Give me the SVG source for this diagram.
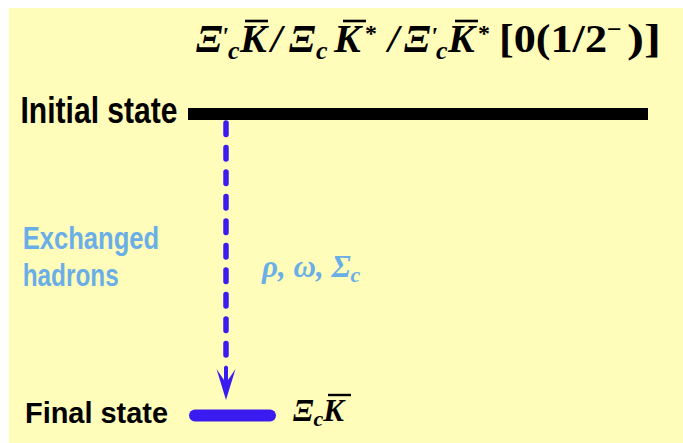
<svg xmlns="http://www.w3.org/2000/svg" width="683" height="443" viewBox="0 0 683 443">
<style>
.lab{font-family:"Liberation Sans",Arial,sans-serif;font-weight:bold;fill:#000}
.blue{fill:#6AAEE8}
.m{font-family:"Liberation Serif","Times New Roman",serif;font-weight:bold;font-style:italic}
.u{font-style:normal}
.ol{stroke-width:2.6}
</style>
<rect x="0" y="0" width="683" height="443" fill="#ffffff"/>
<rect x="9" y="8" width="674" height="435" fill="#FFFDB9"/>
<g id="title">
<text class="m" font-size="40" y="52" fill="#000"><tspan x="196">Ξ</tspan><tspan x="240">K</tspan><tspan x="271">/</tspan><tspan x="289">Ξ</tspan><tspan x="316" y="59" font-size="26">c</tspan><tspan x="334" y="52">K</tspan><tspan x="365" y="41" font-size="24" class="u">*</tspan><tspan x="388" y="52">/</tspan><tspan x="404">Ξ</tspan><tspan x="448" y="52">K</tspan><tspan x="478" y="41" font-size="24" class="u">*</tspan></text>
<text class="m" font-size="26" fill="#000"><tspan x="228" y="59">c</tspan><tspan x="436" y="59">c</tspan></text>
<text class="m" font-size="26" fill="#000"><tspan x="221" y="45">'</tspan><tspan x="430" y="45">'</tspan></text>
<text class="m u" font-size="40" y="52" fill="#000"><tspan x="499" textLength="108" lengthAdjust="spacingAndGlyphs">[0(1/2</tspan><tspan x="607" y="38" font-size="26">−</tspan><tspan x="627" y="52" textLength="34" lengthAdjust="spacingAndGlyphs">)]</tspan></text>
<g stroke="#000" class="ol"><line x1="245" y1="21" x2="268" y2="21"/><line x1="343" y1="21" x2="366" y2="21"/><line x1="455" y1="21" x2="478" y2="21"/></g>
</g>
<g id="initial">
<text class="lab" x="20.5" y="122.7" font-size="36" textLength="157" lengthAdjust="spacingAndGlyphs">Initial state</text>
<rect x="188" y="108" width="460" height="12" fill="#000"/>
</g>
<g id="exchanged">
<text class="lab blue" font-size="30.5"><tspan x="22.7" y="249" textLength="136.5" lengthAdjust="spacingAndGlyphs">Exchanged</tspan><tspan x="22.7" y="286" textLength="96" lengthAdjust="spacingAndGlyphs">hadrons</tspan></text>
<text class="m blue" font-size="31" x="262" y="277">ρ, ω, Σ<tspan font-size="22" dy="5">c</tspan></text>
</g>
<g id="final">
<text class="lab" x="25" y="423" font-size="30" textLength="143" lengthAdjust="spacingAndGlyphs">Final state</text>
<line x1="195" y1="415.5" x2="270" y2="415.5" stroke="#3B1CF0" stroke-width="12" stroke-linecap="round"/>
<text class="m" font-size="31" x="293" y="421" fill="#000">Ξ<tspan font-size="22" dy="5">c</tspan><tspan dy="-5">K</tspan></text>
<line x1="328" y1="395" x2="351" y2="395" stroke="#000" stroke-width="2.4"/>
</g>
<g id="connectors">
<line x1="226" y1="123" x2="226" y2="358" stroke="#3B1CF0" stroke-width="5.5" stroke-linecap="round" stroke-dasharray="11.5 13"/>
<path d="M226,400 L216.5,369 L224,380 L224,367 Q226,364 228,367 L228,380 L235.5,369 Z" fill="#3B1CF0"/>
</g>
</svg>
